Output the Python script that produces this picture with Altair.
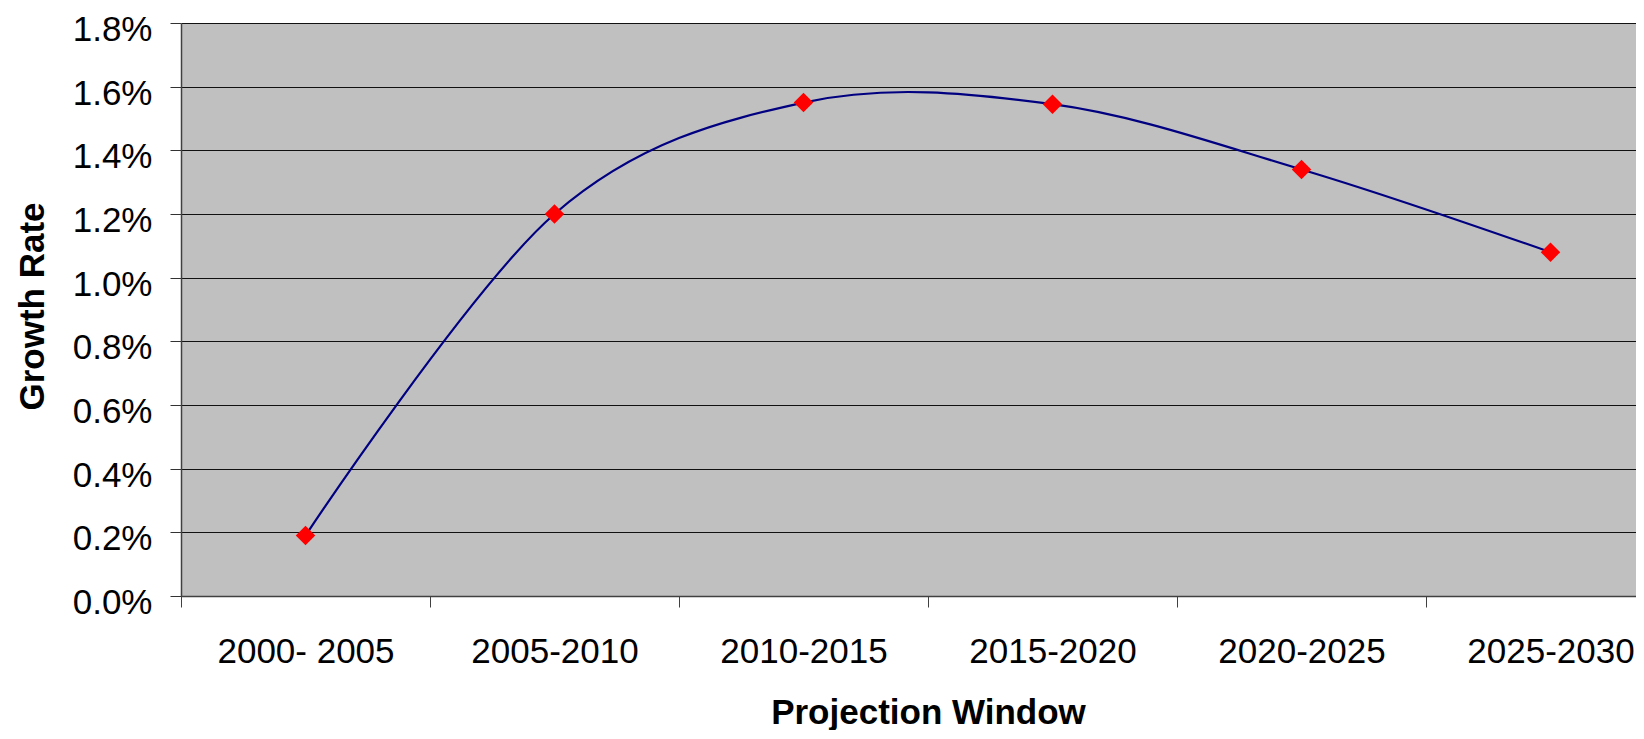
import altair as alt
import pandas as pd

# ---- data ----
categories = ["2000- 2005", "2005-2010", "2010-2015", "2015-2020", "2020-2025", "2025-2030"]
growth = [0.0019, 0.0120, 0.0155, 0.01545, 0.0134, 0.0108]
y_ticks = [0.0, 0.002, 0.004, 0.006, 0.008, 0.010, 0.012, 0.014, 0.016, 0.018]
x_ticks = [0, 1, 2, 3, 4, 5]

df = pd.DataFrame({
    "window": categories,
    "growth": growth,
    "pos": [i + 0.5 for i in range(len(categories))],
})

W = 1455      # visible plot width (original plot is clipped on the right)
H = 573
BAND = 249    # pixel width of one category band

label_expr = "[" + ",".join("'" + c + "'" for c in categories) + "][datum.value]"

FONT = "Liberation Sans"

x_enc = alt.X(
    "pos:Q",
    scale=alt.Scale(domain=[0, W / BAND], nice=False, zero=False),
    axis=alt.Axis(
        values=x_ticks,
        labelExpr=label_expr,
        labelOffset=BAND / 2,
        labelFlush=False,
        labelOverlap=False,
        labelPadding=27,
        labelFontSize=35,
        labelFont=FONT,
        labelColor="#000000",
        tickSize=11,
        tickColor="#404040",
        domainColor="#404040",
        domainWidth=1.5,
        grid=False,
        title="Projection Window",
        titleFont=FONT,
        titleFontSize=35,
        titleFontWeight="bold",
        titleColor="#000000",
        titleX=747,
        titleY=99,
        titleAlign="center",
        titleBaseline="top",
    ),
)

y_enc = alt.Y(
    "growth:Q",
    scale=alt.Scale(domain=[0, 0.018], nice=False, zero=True),
    axis=alt.Axis(
        values=y_ticks,
        format=".1%",
        labelPadding=18,
        labelOffset=6.5,
        labelFontSize=35,
        labelFont=FONT,
        labelColor="#000000",
        tickSize=11,
        tickColor="#333333",
        domainColor="#404040",
        domainWidth=1.5,
        grid=True,
        gridColor="#111111",
        gridWidth=1,
        title="Growth Rate",
        titleFont=FONT,
        titleFontSize=35,
        titleFontWeight="bold",
        titleColor="#000000",
        titleX=-130.6,
        titleY=283,
        titleAngle=270,
        titleAlign="center",
        titleBaseline="bottom",
    ),
)

line = alt.Chart(df).mark_line(
    color="#000080", strokeWidth=2.2, interpolate="cardinal"
).encode(x=x_enc, y=y_enc)

points = alt.Chart(df).mark_point(
    shape="diamond", filled=True, color="#FF0000", size=380, opacity=1
).encode(x=x_enc, y=y_enc)

chart = alt.layer(line, points).properties(
    width=W,
    height=H,
    autosize=alt.AutoSizeParams(type="none"),
    padding={"left": 173, "top": 15, "right": 0, "bottom": 134},
).configure_view(
    fill="#C0C0C0",
    stroke="transparent",
)

chart.save("out.html", embed_options={"renderer": "svg", "actions": False})
